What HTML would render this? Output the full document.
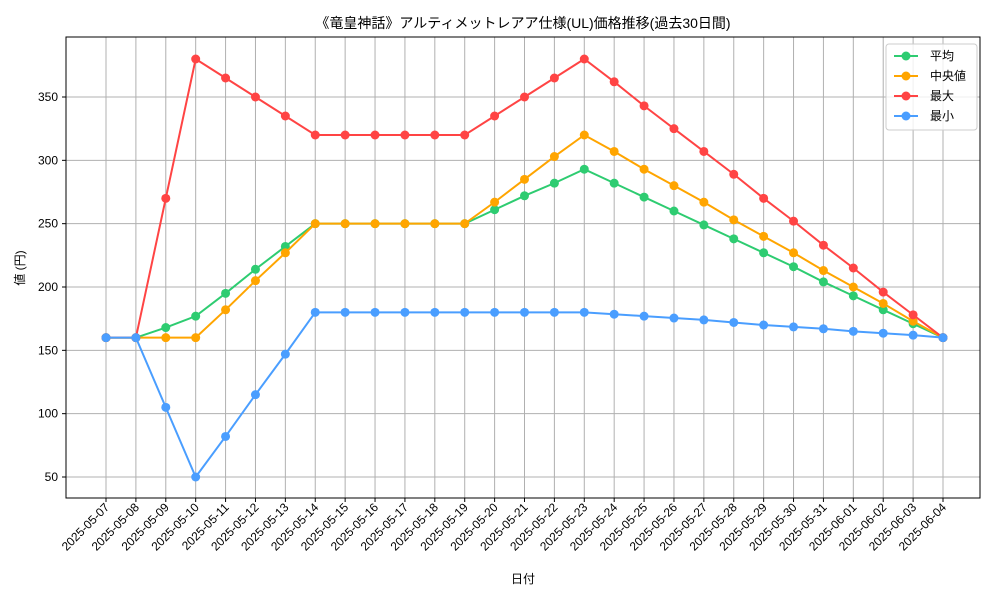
<!DOCTYPE html>
<html><head><meta charset="utf-8"><style>
body{margin:0;background:#fff;font-family:"Liberation Sans","Noto Sans CJK JP",sans-serif;}
svg text{font-family:"Liberation Sans","Noto Sans CJK JP",sans-serif;}
</style></head><body>
<svg id="chart" width="1000" height="600" xmlns="http://www.w3.org/2000/svg">
<rect width="1000" height="600" fill="#fff"/>
<text x="523" y="28" text-anchor="middle" font-size="14">《竜皇神話》アルティメットレアア仕様(UL)価格推移(過去30日間)</text>
<g id="grid"></g>
<g id="series"></g>
<rect x="66" y="37" width="914" height="461" fill="none" stroke="#000" stroke-width="1"/>
<text x="523" y="583" text-anchor="middle" font-size="12">日付</text>
<text transform="translate(24,268) rotate(-90)" text-anchor="middle" font-size="12">値 (円)</text>
<g>
<rect x="886" y="44" width="91" height="86" fill="#fff" fill-opacity="0.8" stroke="#ccc" rx="3"/>
<g id="legend-items"></g>
</g>
</svg>
<script>
const dates=["2025-05-07","2025-05-08","2025-05-09","2025-05-10","2025-05-11","2025-05-12","2025-05-13","2025-05-14","2025-05-15","2025-05-16","2025-05-17","2025-05-18","2025-05-19","2025-05-20","2025-05-21","2025-05-22","2025-05-23","2025-05-24","2025-05-25","2025-05-26","2025-05-27","2025-05-28","2025-05-29","2025-05-30","2025-05-31","2025-06-01","2025-06-02","2025-06-03","2025-06-04"];
const avgVals=[160,160,168,177,195,214,232,250,250,250,250,250,250,261,272,282,293,282,271,260,249,238,227,216,204,193,182,171,160];
const medVals=[160,160,160,160,182,205,227,250,250,250,250,250,250,267,285,303,320,307,293,280,267,253,240,227,213,200,187,173,160];
const maxVals=[160,160,270,380,365,350,335,320,320,320,320,320,320,335,350,365,380,362,343,325,307,289,270,252,233,215,196,178,160];
const minVals=[160,160,105,50,82,115,147,180,180,180,180,180,180,180,180,180,180,178.5,177,175.5,174,172,170,168.5,167,165,163.5,162,160];
const yTicks=[50,100,150,200,250,300,350];
const seriesNames=["平均","中央値","最大","最小"];
const NS="http://www.w3.org/2000/svg";
const x=i=>106+i*(943-106)/(dates.length-1);
const y=v=>477-(v-50)*(380/300);
function mk(t,a,p){const e=document.createElementNS(NS,t);for(const k in a)e.setAttribute(k,a[k]);p.appendChild(e);return e;}
const grid=document.getElementById('grid');
yTicks.forEach(v=>{
 const l=mk('line',{x1:66,x2:980,y1:y(v),y2:y(v),stroke:'#b0b0b0','stroke-width':1},grid);
 
 
 mk('line',{x1:62,x2:66,y1:y(v),y2:y(v),stroke:'#000'},grid);
 const t=mk('text',{x:58,y:y(v)+4,'text-anchor':'end','font-size':12},grid);t.textContent=v;
 
 
});
dates.forEach((d,i)=>{
 const l=mk('line',{x1:x(i),x2:x(i),y1:37,y2:498,stroke:'#b0b0b0','stroke-width':1},grid);
 
 
 mk('line',{x1:x(i),x2:x(i),y1:498,y2:502,stroke:'#000'},grid);
 const t=mk('text',{x:x(i)+4,y:508,'text-anchor':'end','font-size':12,transform:`rotate(-45 ${x(i)+4} 508)`},grid);t.textContent=d;
 
 
});
const sg=document.getElementById('series');
const all=[[avgVals,'#2ecc71','avg'],[medVals,'#ffa500','median'],[maxVals,'#ff4444','max'],[minVals,'#4a9eff','min']];
all.forEach(([vals,c,n])=>{
 const g=mk('g',{},sg);
 
 
 const pl=mk('polyline',{points:vals.map((v,i)=>x(i)+','+y(v)).join(' '),fill:'none',stroke:c,'stroke-width':2},g);
 
 
 vals.forEach((v,i)=>{const p=mk('circle',{cx:x(i),cy:y(v),r:4.5,fill:c},g);
  
  });
});
const lg=document.getElementById('legend-items');
all.forEach(([v,c,n],k)=>{
 const yy=56+k*20;
 const g=mk('g',{},lg);
 
 
 mk('line',{x1:894,x2:918,y1:yy,y2:yy,stroke:c,'stroke-width':2},g);
 mk('circle',{cx:906,cy:yy,r:4.5,fill:c},g);
 const t=mk('text',{x:930,y:yy+4,'font-size':12},g);t.textContent=seriesNames[k];
});
</script>
</body></html>
